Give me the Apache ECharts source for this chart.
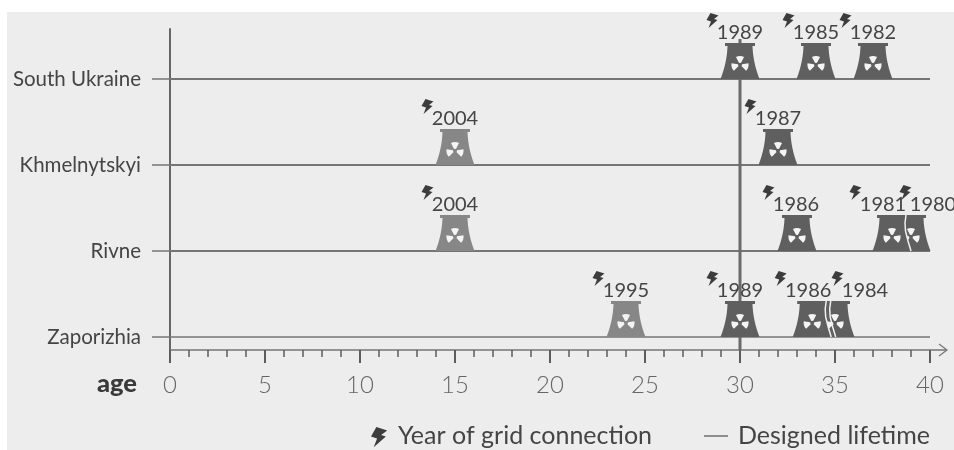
<!DOCTYPE html>
<html><head><meta charset="utf-8">
<style>html,body{margin:0;padding:0;background:#fff}#c{width:954px;height:450px}</style>
<script src="https://cdn.jsdelivr.net/npm/echarts@6/dist/echarts.min.js"></script>
</head><body><div id="c"></div>
<script>
// ---- data ----
const categories = ['Zaporizhia', 'Rivne', 'Khmelnytskyi', 'South Ukraine'];
const zaporizhiaYears = [1995, 1989, 1986, 1984];
const zaporizhiaAges  = [24, 30, 33.8, 35];
const rivneYears = [2004, 1986, 1981, 1980];
const rivneAges  = [15, 33, 38, 39];
const khmelnytskyiYears = [2004, 1987];
const khmelnytskyiAges  = [15, 32];
const southUkraineYears = [1989, 1985, 1982];
const southUkraineAges  = [30, 34, 37];
const designedLifetime = 30;
const xTicks = [0, 40];

const yearsByRow = [zaporizhiaYears, rivneYears, khmelnytskyiYears, southUkraineYears];
const agesByRow = [zaporizhiaAges, rivneAges, khmelnytskyiAges, southUkraineAges];

// ---- presentation ----
const FONT = 'Lato, "Open Sans", sans-serif';
const BG = '#ededed', DARK = '#5f5f5f', LIGHT = '#878787', LINE = '#757575', TEXT = '#454545';
const Y_MIN = -0.151, Y_MAX = 3.581, LIFE_TOP = 3.465;
const labelNudge = { '0-1984': 30, '0-1986': -4, '1-1980': 22, '1-1981': -9, '1-1986': -1 };
const seams = { '0-1986': 2, '1-1981': 1 };

const towers = [];
yearsByRow.forEach((ys, r) => ys.forEach((y, i) => towers.push([agesByRow[r][i], r, y])));
towers.sort((a, b) => b[0] - a[0]); // older towers behind younger ones

function boltPoints(x, y, s) {
  return [[4,0],[12,2.5],[7.5,6],[11,7],[2,15],[4.5,8.5],[0,7]].map(p => [x + p[0]*s, y + p[1]*s]);
}
function towerPoints(cx, base) {
  const pts = [];
  const edge = t => 12.5 + 7 * (0.85*t*t + 0.15*t);
  pts.push([cx-15, base-36],[cx+15, base-36],[cx+15, base-33]);
  for (let i = 0; i <= 12; i++) { const t = i/12; pts.push([cx+edge(t), base-33+33*t]); }
  for (let i = 12; i >= 0; i--) { const t = i/12; pts.push([cx-edge(t), base-33+33*t]); }
  pts.push([cx-15, base-33]);
  return pts;
}
function renderTower(params, api) {
  const age = api.value(0), row = api.value(1), year = api.value(2);
  const p = api.coord([age, row]);
  const cx = p[0], base = p[1];
  const key = row + '-' + year;
  const children = [];
  children.push({ type:'polygon', shape:{ points: towerPoints(cx, base) },
    style:{ fill: age < designedLifetime ? LIGHT : DARK } });
  const tcy = base - 14.3, rad = Math.PI/180;
  [[-118,-62],[-10,45],[135,190]].forEach(a => children.push({ type:'sector',
    shape:{ cx, cy:tcy, r:8.6, r0:2, startAngle:a[0]*rad, endAngle:a[1]*rad, clockwise:true },
    style:{ fill:'#f4f4f4' } }));
  const n = seams[key] || 0;
  for (let i = 0; i < n; i++) {
    const d = i * 4.5;
    children.push({ type:'polyline',
      shape:{ points:[[cx+14+d, base-36],[cx+13+d, base-28],[cx+13.5+d, base-20],[cx+16+d, base-10],[cx+19+d, base]] },
      style:{ fill:'none', stroke:'#efefef', lineWidth:1.5 } });
  }
  const lx = cx + (labelNudge[key] || 0);
  children.push({ type:'text', z2:5, style:{ text:String(year), x:lx, y:base-46.5,
    fill:TEXT, font:'400 20px '+FONT, align:'center', verticalAlign:'middle',
    textAlign:'center', textVerticalAlign:'middle' } });
  children.push({ type:'polygon', z2:5, shape:{ points: boltPoints(lx-33.5, base-66, 1) }, style:{ fill:'#3c3c3c' } });
  return { type:'group', children };
}
function renderArrow(params, api) {
  const p = api.coord([api.value(0), api.value(1)]);
  return { type:'group', children:[
    { type:'line', shape:{ x1:p[0], y1:p[1], x2:p[0]+17, y2:p[1] }, style:{ stroke:LINE, lineWidth:1.5 } },
    { type:'polyline', shape:{ points:[[p[0]+9,p[1]-6],[p[0]+17,p[1]],[p[0]+9,p[1]+6]] }, style:{ fill:'none', stroke:LINE, lineWidth:1.2 } }
  ]};
}

const chart = echarts.init(document.getElementById('c'), null, { renderer:'canvas' });
chart.setOption({
  animation:false,
  backgroundColor:'#fff',
  grid:{ left:170, right:24, top:29, height:321, containLabel:false },
  xAxis:{ type:'value', min:xTicks[0], max:xTicks[1], interval:5,
    axisLine:{ show:true, onZero:false, lineStyle:{ color:LINE, width:1.5 } },
    axisTick:{ show:true, length:13, lineStyle:{ color:'#5c5c5c', width:2 } },
    minorTick:{ show:true, splitNumber:5, length:7, lineStyle:{ color:'#5c5c5c', width:1.5 } },
    splitLine:{ show:false }, minorSplitLine:{ show:false },
    axisLabel:{ margin:23, color:'#666', fontFamily:FONT, fontWeight:300, fontSize:24, hideOverlap:false, showMinLabel:true, showMaxLabel:true }
  },
  yAxis:{ type:'value', min:Y_MIN, max:Y_MAX,
    axisLine:{ show:true, onZero:false, lineStyle:{ color:'#666', width:2 } },
    axisTick:{ show:true, length:18, customValues:[0,1,2,3], lineStyle:{ color:LINE, width:1.5 } },
    splitLine:{ show:false },
    axisLabel:{ margin:29, color:TEXT, fontFamily:FONT, fontSize:20.5, customValues:[0,1,2,3],
      formatter:v => categories[Math.round(v)] }
  },
  graphic:[
    { type:'rect', z:-10, silent:true, shape:{ x:7, y:12, width:947, height:438 }, style:{ fill:BG } },
    { type:'text', left:97, top:371, style:{ text:'age', fill:'#3a3a3a', font:'900 25.5px '+FONT } },
    { type:'polygon', shape:{ points:boltPoints(371, 427, 1.35) }, style:{ fill:'#3c3c3c' } },
    { type:'text', left:398, top:423.5, style:{ text:'Year of grid connection', fill:TEXT, font:'400 25px '+FONT } },
    { type:'line', shape:{ x1:704, y1:436, x2:728, y2:436 }, style:{ stroke:LINE, lineWidth:1.6 } },
    { type:'text', left:738, top:423.5, style:{ text:'Designed lifetime', fill:TEXT, font:'400 25px '+FONT } }
  ],
  series:[
    ...categories.map((c, i) => ({ type:'line', name:c, silent:true, symbol:'none', z:1, clip:false,
      lineStyle:{ color:LINE, width:i === 0 ? 1.3 : 2 }, data:[[xTicks[0], i],[xTicks[1], i]] })),
    { type:'line', name:'Designed lifetime', symbol:'none', z:1, clip:false,
      lineStyle:{ color:'#6a6a6a', width:3 }, data:[[designedLifetime, Y_MIN],[designedLifetime, LIFE_TOP]] },
    { type:'custom', name:'arrow', z:1, clip:false, renderItem:renderArrow, data:[[xTicks[1], Y_MIN]] },
    { type:'custom', name:'reactors', z:3, clip:false, renderItem:renderTower, data:towers,
      encode:{ x:0, y:1 } }
  ]
});
</script></body></html>
